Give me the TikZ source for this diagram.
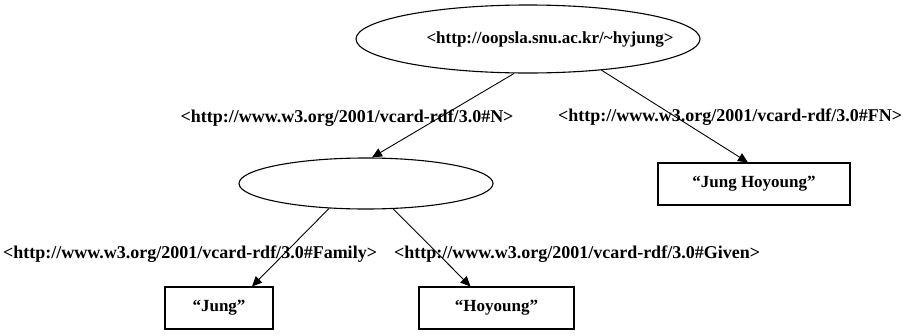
\documentclass[tikz,border=0pt]{standalone}
\usepackage{fontspec}
\setmainfont{Liberation Serif}
\usetikzlibrary{shapes.geometric,arrows.meta}

\begin{document}
\begin{tikzpicture}[x=1pt, y=-1pt,
    every node/.style={font=\fontsize{17}{20}\selectfont\bfseries, inner sep=0pt},
    res/.style={draw, ellipse, line width=1.1pt},
    lit/.style={draw, rectangle, line width=1.1pt, minimum height=42pt},
    prop/.style={font=\fontsize{18}{21}\selectfont\bfseries},
    edge/.style={line width=0.9pt, -{Triangle[length=10pt,width=9pt]}}]
    \useasboundingbox (0,0) rectangle (912,335);

    % resources
    \node[res, minimum width=344pt, minimum height=68pt,
          label={[xshift=22pt]center:<http://oopsla.snu.ac.kr/\textasciitilde hyjung>}] (page) at (528,39) {};
    \node[res, minimum width=254pt, minimum height=51pt] (blank) at (366,183.5) {};

    % literals
    \node[lit, minimum width=192pt] (full) at (754,184) {“Jung Hoyoung”};
    \node[lit, minimum width=108pt] (family) at (219,308) {“Jung”};
    \node[lit, minimum width=155pt] (given) at (496.5,308) {“Hoyoung”};

    % property names
    \node[prop] (pN) at (347,118) {<http://www.w3.org/2001/vcard-rdf/3.0\#N>};
    \node[prop] (pFN) at (730,117) {<http://www.w3.org/2001/vcard-rdf/3.0\#FN>};
    \node[prop] (pFamily) at (190,254) {<http://www.w3.org/2001/vcard-rdf/3.0\#Family>};
    \node[prop] (pGiven) at (577,254) {<http://www.w3.org/2001/vcard-rdf/3.0\#Given>};

    % arcs
    \draw[edge] (page.-112) -- (blank.77);
    \draw[edge] (page.-23) -- ([xshift=-6pt]full.north);
    \draw[edge] (blank.-146) -- ([xshift=33pt]family.north);
    \draw[edge] (blank.-43) -- ([xshift=-26pt]given.north);
\end{tikzpicture}
\end{document}
